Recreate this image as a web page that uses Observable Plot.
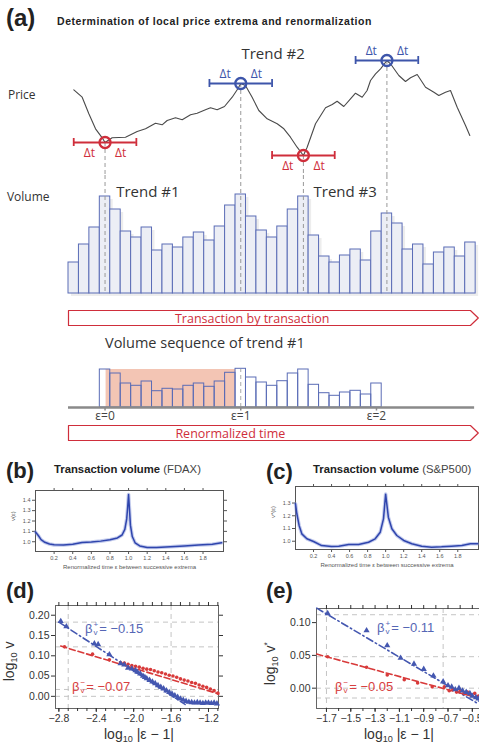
<!DOCTYPE html>
<html><head><meta charset="utf-8">
<script src="https://cdn.jsdelivr.net/npm/d3@7"></script>
<script src="https://cdn.jsdelivr.net/npm/@observablehq/plot@0.6"></script>
<style>
html,body{margin:0;padding:0;background:#fff;overflow:hidden}
#root{position:relative;width:479px;height:745px;overflow:hidden;font-family:"Liberation Sans",Arial,sans-serif;color:#222}
.abs{position:absolute;white-space:nowrap;line-height:1}
.ss{display:inline-block;vertical-align:-0.25em;font-size:0.62em;line-height:0.95;margin:0 1px}
.ss span{display:block}
sub.l{font-size:0.65em;vertical-align:-0.3em}
</style></head><body><div id="root"></div>
<script>
// ---------------- DATA ----------------
// Panel (a): price path along the transaction axis (t = transaction index)
const priceT = [0.51,1.31,1.95,2.59,3.23,3.5,4.18,5.46,6.58,7.38,8.33,8.97,9.45,10.25,10.89,11.69,12.32,13.12,13.6,14.24,14.94,15.68,16.22,16.5,16.95,17.59,18.23,19.03,19.99,20.63,21.26,21.9,22.5,22.86,23.66,24.62,25.26,25.73,26.37,27.01,27.49,28.13,28.6,28.93,29.41,29.89,30.5,30.84,31.64,32.28,32.76,33.4,34.2,35.0,35.47,36.11,36.59,37.23,38.03,38.44];
const priceP = [85.7,78.3,61.7,46.7,37.7,33,37.7,38.3,44,46.7,52.3,50.7,55,57.7,55.7,60.7,62.3,65.7,67.7,65.7,69,78.3,86.7,92,90,78.3,65,56.7,51.7,46.7,38.3,28.3,20,28.3,51.7,67.7,71,74.3,69,76.7,82.3,78.3,85,95,101.7,106.7,115,111.7,100,94,97.7,101,88.3,83.3,80,83.3,85,68.3,50,40];
const extremaT = [3.5, 16.5, 22.5, 30.5];
const extremaP = [33, 92, 20, 115];
const extremaKind = ["min", "max", "min", "max"];
const deltaT = 3;
const volume = [31,49,66,97,84,62,56,66,43,49,46,56,61,53,67,88,99,77,63,56,67,84,97,58,37,31,38,44,33,62,80,70,44,49,29,41,46,37,51];
const renormStart = 3;
const renormVolume = [38,34,24,21.7,26,16.3,18.7,18,21.7,24,20.7,26,34.7,38.7,30,25,21.7,26.3,34,38,22.7,14.3,11.7,15,16.7,13,24];
const shadeT = [3.6, 16.0]; const shadeTop = 38;
const epsilonTickT = [3.5, 16.5, 29.5];
const epsilonLabels = ["ε=0", "ε=1", "ε=2"];
const trendLabels = ["Trend #1", "Trend #3"]; const trendLabelT = [7.6, 26.5];

// Panel (b): FDAX
const fdaxEps = [0,0.03,0.06,0.1,0.15,0.2,0.3,0.4,0.5,0.6,0.7,0.8,0.88,0.93,0.96,0.98,0.99,1.0,1.01,1.02,1.04,1.07,1.12,1.2,1.3,1.45,1.6,1.75,1.9,2.0];
const fdaxV = [1.094,1.06,1.02,0.995,0.978,0.97,0.968,0.976,0.993,0.998,1.006,1.02,1.037,1.065,1.12,1.22,1.33,1.456,1.31,1.16,1.05,0.99,0.96,0.945,0.944,0.952,0.96,0.968,0.975,0.99];
// Panel (c): S&P500
const spxEps = [0,0.015,0.04,0.07,0.126,0.2,0.29,0.4,0.48,0.59,0.7,0.81,0.884,0.94,0.976,1.0,1.03,1.069,1.124,1.2,1.29,1.4,1.51,1.62,1.73,1.845,1.94,2.02];
const spxV = [1.294,1.216,1.124,1.058,1.019,0.998,0.966,0.958,0.961,0.974,0.974,0.992,1.019,1.071,1.176,1.37,1.189,1.098,1.045,1.006,0.98,0.961,0.953,0.956,0.961,0.966,0.98,0.98];
const bcXTicks = [0.2,0.4,0.6,0.8,1.0,1.2,1.4,1.6,1.8];
const bYTicks = [1.0,1.1,1.2,1.3,1.4];
const cYTicks = [1.0,1.1,1.2,1.3];

// Panel (d): FDAX log-log
const dBlueX = [-2.78,-2.72,-2.42,-2.38,-2.26,-2.14,-2.10,-2.06,-2.02,-1.98,-1.96,-1.93,-1.90,-1.88,-1.86,-1.83,-1.80,-1.77,-1.74,-1.71,-1.68,-1.65,-1.62,-1.59,-1.56,-1.53,-1.50,-1.47,-1.44,-1.41,-1.38,-1.35,-1.32,-1.29,-1.26,-1.23,-1.20,-1.17,-1.14,-1.11];
const dBlueY = [0.185,0.172,0.130,0.128,0.103,0.081,0.078,0.070,0.068,0.064,0.060,0.056,0.050,0.047,0.044,0.040,0.036,0.032,0.027,0.023,0.019,0.014,0.010,0.006,0.002,-0.002,-0.006,-0.009,-0.012,-0.014,-0.015,-0.016,-0.015,-0.016,-0.017,-0.016,-0.016,-0.017,-0.016,-0.018];
const dRedX = [-2.74,-2.44,-2.26,-2.14,-2.10,-2.06,-2.02,-1.98,-1.94,-1.90,-1.86,-1.82,-1.78,-1.74,-1.70,-1.66,-1.62,-1.58,-1.54,-1.50,-1.46,-1.42,-1.38,-1.34,-1.30,-1.26,-1.22,-1.18,-1.14,-1.10];
const dRedY = [0.122,0.104,0.090,0.083,0.082,0.079,0.076,0.074,0.072,0.069,0.067,0.066,0.063,0.060,0.058,0.055,0.052,0.050,0.047,0.043,0.040,0.038,0.034,0.032,0.028,0.025,0.022,0.018,0.014,0.008];
const dBlueFitX = [-2.8, -1.45], dBlueFitY = [0.183, -0.020];
const dRedFitX = [-2.78, -1.09], dRedFitY = [0.124, 0.006];
const dGridX = [-2.7, -1.6], dGridY = [0.183, 0.122, 0.017, 0.0];
const dXTicks = [-2.8,-2.4,-2.0,-1.6,-1.2];
const dXMinor = [-2.8,-2.7,-2.6,-2.5,-2.4,-2.3,-2.2,-2.1,-2.0,-1.9,-1.8,-1.7,-1.6,-1.5,-1.4,-1.3,-1.2,-1.1];
const dYTicks = [0,0.05,0.10,0.15,0.20];

// Panel (e): S&P500 log-log
const eBlueX = [-1.69,-1.37,-1.20,-1.09,-0.98,-0.90,-0.82,-0.74,-0.70,-0.67,-0.64,-0.61,-0.58,-0.55,-0.52,-0.50,-0.47,-0.45,-0.43];
const eBlueY = [0.114,0.088,0.065,0.046,0.037,0.029,0.019,0.010,0.004,0.002,-0.002,0.000,-0.004,-0.006,-0.008,-0.012,-0.014,-0.016,-0.018];
const eRedX = [-1.69,-1.37,-1.20,-1.06,-0.95,-0.83,-0.73,-0.69,-0.66,-0.63,-0.60,-0.57,-0.54,-0.51,-0.48,-0.45,-0.43];
const eRedY = [0.048,0.032,0.020,0.013,0.008,0.002,0.002,-0.004,-0.002,-0.006,-0.004,-0.008,-0.006,-0.010,-0.008,-0.012,-0.014];
const eBlueFitX = [-1.78, -0.45], eBlueFitY = [0.122, -0.024];
const eRedFitX = [-1.78, -0.45], eRedFitY = [0.052, -0.015];
const eGridX = [-1.7, -0.74], eGridY = [0.112, 0.048, 0.0, -0.015];
const eXTicks = [-1.7,-1.5,-1.3,-1.1,-0.9,-0.7,-0.5];
const eXMinor = [-1.7,-1.6,-1.5,-1.4,-1.3,-1.2,-1.1,-1.0,-0.9,-0.8,-0.7,-0.6,-0.5];
const eYTicks = [0,0.05,0.10];

// ---------------- RENDER ----------------
const root = document.getElementById("root");
const ILL = "'Open Sans','Noto Sans',sans-serif";
const SCI = "'Liberation Sans',Arial,sans-serif";
const RED = "#cf2e3b", BLUE = "#3d55aa", BAR = "#5a6cb6", PTBLUE = "#4457b0", PTRED = "#d83a3a";

function place(el, left, top) {
  el.style.position = "absolute"; el.style.left = left + "px"; el.style.top = top + "px";
  root.appendChild(el); return el;
}
function label(html, left, top, css = {}) {
  const d = document.createElement("div"); d.className = "abs";
  d.innerHTML = html; Object.assign(d.style, css);
  return place(d, left, top);
}
const baseStyle = {background: "none", overflow: "visible", fontFamily: ILL};
const xT = {domain: [-68 / 10.44, 411 / 10.44], axis: null};

// --- (a) price ---
const price = priceT.map((t, i) => ({t, p: priceP[i]}));
const extrema = extremaT.map((t, i) => ({t, p: extremaP[i], kind: extremaKind[i], c: extremaKind[i] === "min" ? RED : BLUE}));
const caps = extrema.flatMap(d => [{x: d.t - deltaT, p: d.p, c: d.c}, {x: d.t + deltaT, p: d.p, c: d.c}]);
const dts = extrema.flatMap(d => [-1, 1].map(s => ({x: d.t + s * deltaT / 2, p: d.kind === "min" ? d.p - 11 : d.p + 9, c: d.c})));
place(Plot.plot({
  width: 479, height: 135, margin: 0, x: xT, y: {domain: [0, 135], axis: null},
  color: {type: "identity"}, style: baseStyle,
  marks: [
    Plot.ruleX(extrema, {x: "t", y1: "p", y2: 0, stroke: "#9a9a9a", strokeDasharray: "4,3"}),
    Plot.line(price, {x: "t", y: "p", stroke: "#4a4a4a", strokeWidth: 1.1}),
    Plot.ruleY(extrema, {y: "p", x1: d => d.t - deltaT, x2: d => d.t + deltaT, stroke: "c", strokeWidth: 2}),
    Plot.ruleX(caps, {x: "x", y1: d => d.p - 4, y2: d => d.p + 4, stroke: "c", strokeWidth: 1.8}),
    Plot.dot(extrema, {x: "t", y: "p", r: 5.5, stroke: "c", strokeWidth: 2.3, fill: "none"}),
    Plot.text(dts, {x: "x", y: "p", text: () => "Δt", fill: "c", fontSize: 12}),
    Plot.text(["Trend #2"], {x: 19.6, y: 121, fontSize: 15, fill: "#333"}),
    Plot.text(["Price"], {x: -5.8, y: 80, textAnchor: "start", fontSize: 12, fill: "#333"})
  ]
}), 0, 40);

// --- (a) volume ---
place(Plot.plot({
  width: 479, height: 125, marginTop: 0, marginBottom: 7, marginLeft: 0, marginRight: 0,
  x: xT, y: {domain: [0, 118], axis: null}, style: baseStyle,
  marks: [
    Plot.rect(volume, {x1: (d, i) => i, x2: (d, i) => i + 1, y1: 0, y2: d => d, fill: "#000", fillOpacity: 0.07, dx: 3, dy: 3}),
    Plot.rect(volume, {x1: (d, i) => i, x2: (d, i) => i + 1, y1: 0, y2: d => d, fill: "#eceef5", stroke: BAR, strokeWidth: 1}),
    Plot.ruleX(extremaT, {x: d => d, y1: 2, y2: 118, stroke: "#999", strokeDasharray: "4,3"}),
    Plot.text(trendLabels, {x: (d, i) => trendLabelT[i], y: 101, fontSize: 15, fill: "#333"}),
    Plot.text(["Volume"], {x: -5.9, y: 96, textAnchor: "start", fontSize: 12, fill: "#333"})
  ]
}), 0, 175);

// --- (a) arrows ---
const arrowEnd = 38.5, arrowTip = 39.25;
const arrowShape = [{t: 0, v: 0}, {t: arrowEnd, v: 0}, {t: arrowTip, v: 0.5}, {t: arrowEnd, v: 1}, {t: 0, v: 1}, {t: 0, v: 0}];
function arrow(text, textT, top) {
  place(Plot.plot({
    width: 479, height: 17, margin: 1, marginLeft: 0, marginRight: 0, x: xT, y: {domain: [0, 1], axis: null}, style: baseStyle,
    marks: [
      Plot.line(arrowShape, {x: "t", y: "v", stroke: RED, strokeWidth: 1.2}),
      Plot.text([text], {x: textT, y: 0.5, fill: RED, fontSize: 12.5, dy: 0.5})
    ]
  }), 0, top);
}
arrow("Transaction by transaction", 17.6, 309);

// --- (a) renormalized ---
label("Volume sequence of trend #1", 105, 336, {fontFamily: ILL, fontSize: "14.5px", color: "#333"});
place(Plot.plot({
  width: 479, height: 67, marginTop: 0, marginBottom: 15, marginLeft: 0, marginRight: 0,
  x: xT, y: {domain: [0, 52], axis: null}, style: baseStyle,
  marks: [
    Plot.rect([0], {x1: shadeT[0], x2: shadeT[1], y1: 0, y2: shadeTop, fill: "#f3c5b4"}),
    Plot.rect(renormVolume, {x1: (d, i) => renormStart + i, x2: (d, i) => renormStart + i + 1, y1: 0, y2: d => d, fill: "none", stroke: BAR, strokeWidth: 1}),
    Plot.ruleX([epsilonTickT[1]], {y1: 0, y2: shadeTop, stroke: "#aaa", strokeDasharray: "4,3"}),
    Plot.ruleY([0], {x1: 0, x2: 38.9, stroke: "#8a8a8a", strokeWidth: 2.5}),
    Plot.ruleX(epsilonTickT, {y1: -3.5, y2: 0, stroke: "#8a8a8a", strokeWidth: 1.5}),
    Plot.text(epsilonLabels, {x: (d, i) => epsilonTickT[i], y: -8.5, fontSize: 12, fill: "#444"})
  ]
}), 0, 355);
arrow("Renormalized time", 15.5, 424);

label("(a)", 6, 6, {fontSize: "24px", fontWeight: "bold"});
label("Determination of local price extrema and renormalization", 57, 16, {fontSize: "10.5px", fontWeight: "bold", letterSpacing: "0.55px", color: "#222"});

// --- (b), (c) ---
function curvePlot(eps, vals, o) {
  const data = eps.map((e, i) => ({e, v: vals[i]}));
  return Plot.plot({
    width: o.width, height: o.height, marginLeft: o.mL, marginRight: o.mR, marginTop: o.mT, marginBottom: o.mB,
    x: {domain: o.xd}, y: {domain: o.yd},
    style: {background: "none", overflow: "visible", fontFamily: SCI, color: "#555"},
    marks: [
      Plot.frame({stroke: "#555"}),
      Plot.axisX({anchor: "bottom", ticks: bcXTicks, tickFormat: d3.format(".1f"), tickSize: 3, tickPadding: 2, fontSize: 5.5, label: null}),
      Plot.axisX({anchor: "top", ticks: bcXTicks, tickFormat: () => "", tickSize: 3, label: null}),
      Plot.axisY({anchor: "left", ticks: o.yt, tickFormat: d3.format(".1f"), tickSize: 3, tickPadding: 2, fontSize: 5.5, label: null}),
      Plot.axisY({anchor: "right", ticks: o.yt, tickFormat: () => "", tickSize: 3, label: null}),
      Plot.line(data, {x: "e", y: "v", stroke: "#7d8fd8", strokeWidth: 3.6, strokeOpacity: 0.45}),
      Plot.line(data, {x: "e", y: "v", stroke: "#2f45ad", strokeWidth: 1.5}),
      Plot.text(["Renormalized time ε between successive extrema"], {frameAnchor: "bottom", dy: 17, fontSize: 6, fill: "#555"}),
      Plot.text([o.ylab], {frameAnchor: "left", dx: -22, rotate: -90, fontSize: 6, fill: "#555"})
    ]
  });
}
place(curvePlot(fdaxEps, fdaxV, {width: 230, height: 106, mL: 35, mR: 7, mT: 20, mB: 25, xd: [0, 2.02], yd: [0.906, 1.494], yt: bYTicks, ylab: "v(ε)"}), 0, 470);
place(curvePlot(spxEps, spxV, {width: 224, height: 108, mL: 40, mR: 1, mT: 20, mB: 25, xd: [0, 2.03], yd: [0.935, 1.43], yt: cYTicks, ylab: "v*(ε)"}), 255, 466);

label("(b)", 6, 460, {fontSize: "22px", fontWeight: "bold"});
label("<b>Transaction volume</b> <span style='font-weight:normal;color:#444'>(FDAX)</span>", 54, 464, {fontSize: "11.3px"});
label("(c)", 266, 461, {fontSize: "22px", fontWeight: "bold"});
label("<b>Transaction volume</b> <span style='font-weight:normal;color:#444'>(S&amp;P500)</span>", 313, 464, {fontSize: "11.3px"});

// --- (d), (e) ---
function logPlot(o) {
  const blue = o.bx.map((x, i) => ({x, y: o.by[i]}));
  const red = o.rx.map((x, i) => ({x, y: o.ry[i]}));
  const bfit = o.bfx.map((x, i) => ({x, y: o.bfy[i]}));
  const rfit = o.rfx.map((x, i) => ({x, y: o.rfy[i]}));
  return Plot.plot({
    width: o.width, height: o.height, marginLeft: o.mL, marginRight: o.mR, marginTop: o.mT, marginBottom: o.mB,
    x: {domain: o.xd}, y: {domain: o.yd},
    style: {background: "none", overflow: "visible", fontFamily: SCI, color: "#333"},
    marks: [
      Plot.ruleX(o.gx, {stroke: "#c4c4c4", strokeDasharray: "5,4"}),
      Plot.ruleY(o.gy, {stroke: "#c4c4c4", strokeDasharray: "5,4"}),
      Plot.frame({stroke: "#666"}),
      Plot.axisX({anchor: "bottom", ticks: o.xt, tickFormat: d3.format(".1f"), tickSize: 4, tickPadding: 2, fontSize: 10.5, label: null}),
      Plot.axisX({anchor: "bottom", ticks: o.xm, tickFormat: () => "", tickSize: 3, label: null}),
      Plot.axisX({anchor: "top", ticks: o.xm, tickFormat: () => "", tickSize: 4, label: null}),
      Plot.axisY({anchor: "left", ticks: o.yt, tickFormat: d3.format(".2f"), tickSize: 4, tickPadding: 2, fontSize: 10.5, label: null}),
      Plot.axisY({anchor: "right", ticks: o.yt, tickFormat: () => "", tickSize: 4, label: null}),
      Plot.line(bfit, {x: "x", y: "y", stroke: PTBLUE, strokeWidth: 1.6, strokeDasharray: "7,3,1.5,3"}),
      Plot.line(rfit, {x: "x", y: "y", stroke: PTRED, strokeWidth: 1.6, strokeDasharray: "6,3"}),
      Plot.dot(red, {x: "x", y: "y", r: 1.8, fill: PTRED}),
      Plot.dot(blue, {x: "x", y: "y", r: 2.3, symbol: "triangle", fill: PTBLUE})
    ]
  });
}
place(logPlot({width: 225, height: 150, mL: 55, mR: 7, mT: 10, mB: 37, xd: [-2.836, -1.093], yd: [-0.030, 0.224],
  xt: dXTicks, xm: dXMinor, yt: dYTicks, gx: dGridX, gy: dGridY,
  bx: dBlueX, by: dBlueY, rx: dRedX, ry: dRedY, bfx: dBlueFitX, bfy: dBlueFitY, rfx: dRedFitX, rfy: dRedFitY}), 0, 595);
place(logPlot({width: 245, height: 147, mL: 76, mR: 2, mT: 10, mB: 37, xd: [-1.782, -0.408], yd: [-0.031, 0.1215],
  xt: eXTicks, xm: eXMinor, yt: eYTicks, gx: eGridX, gy: eGridY,
  bx: eBlueX, by: eBlueY, rx: eRedX, ry: eRedY, bfx: eBlueFitX, bfy: eBlueFitY, rfx: eRedFitX, rfy: eRedFitY}), 240, 598);

label("(d)", 6, 580, {fontSize: "22px", fontWeight: "bold"});
label("(e)", 266, 580, {fontSize: "22px", fontWeight: "bold"});
const beta = (s, v) => `β<span class="ss"><span>${s}</span><span>v</span></span>= ${v}`;
label(beta("+", "−0.15"), 85, 621, {fontSize: "13px", color: "#5566b5"});
label(beta("−", "−0.07"), 72, 679, {fontSize: "13px", color: "#d84040"});
label(beta("+", "−0.11"), 377, 620, {fontSize: "13px", color: "#5566b5"});
label(beta("−", "−0.05"), 335, 679, {fontSize: "13px", color: "#d84040"});
label("log<sub class='l'>10</sub> |ε − 1|", 104, 727, {fontSize: "14px", color: "#333"});
label("log<sub class='l'>10</sub> |ε − 1|", 364, 727, {fontSize: "14px", color: "#333"});
label("log<sub class='l'>10</sub> v", -9, 653, {fontSize: "14px", color: "#333", transform: "rotate(-90deg)", transformOrigin: "center"});
label("log<sub class='l'>10</sub> v<sup style='font-size:0.6em'>*</sup>", 250, 655, {fontSize: "14px", color: "#333", transform: "rotate(-90deg)", transformOrigin: "center"});
</script></body></html>
